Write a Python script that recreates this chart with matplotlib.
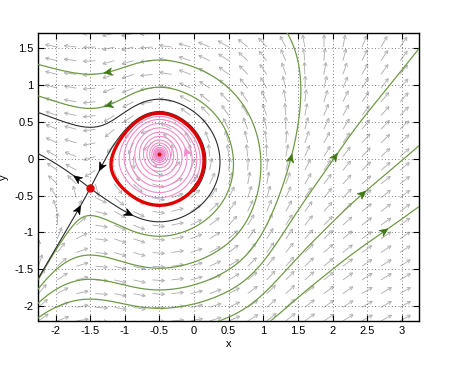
import numpy as np
import matplotlib
matplotlib.use("Agg")
import matplotlib.pyplot as plt
from matplotlib.collections import LineCollection
from matplotlib.patches import Polygon

plt.rcParams["font.family"] = ["Liberation Sans", "DejaVu Sans"]

# axes
x_range = (-2.25, 3.25)
y_range = (-2.2, 1.7)
x_ticks = [-2, -1.5, -1, -0.5, 0, 0.5, 1, 1.5, 2, 2.5, 3]
y_ticks = [-2, -1.5, -1, -0.5, 0, 0.5, 1, 1.5]

# x-positions of the two equilibria (saddle, focus)
saddle_x = -1.5
focus_x = -0.5

# x' = A(x) - y : curve where orbits turn upright
a_x = [-2.6, -2.25, -1.9, -1.5, -1.2, -1.05, -0.9, -0.7, -0.5, -0.3, 0.0, 0.2, 0.45,
       0.7, 0.9, 1.05, 1.2, 1.45, 1.68, 2.1, 2.5, 3.0, 3.6]
a_y = [-1.65, -1.22, -0.8, -0.4, -0.08, 0.0, 0.04, 0.065, 0.06, 0.035, -0.01, -0.03,
       -0.05, -0.09, -0.1, -0.03, 0.18, 0.7, 1.25, 1.95, 2.85, 3.9, 5.2]
# y' = K(x) (x - focus_x)(x - saddle_x) : K read from orbit slopes
k_x = [-2.6, -2.25, -1.9, -1.5, -1.0, -0.5, 0.0, 0.4, 0.9, 1.45, 2.1, 2.5, 3.0, 3.6]
k_v = [0.38, 0.49, 0.75, 1.25, 1.55, 1.1, 0.6, 0.45, 0.42, 0.37, 0.265, 0.22, 0.2, 0.19]


def smooth(xn, yn):
    xn = np.asarray(xn, float)
    yn = np.asarray(yn, float)
    m = np.gradient(yn, xn)

    def f(x):
        i = int(np.clip(np.searchsorted(xn, x) - 1, 0, len(xn) - 2))
        h = xn[i + 1] - xn[i]
        t = (x - xn[i]) / h
        return ((2 * t ** 3 - 3 * t ** 2 + 1) * yn[i] + (t ** 3 - 2 * t ** 2 + t) * h * m[i]
                + (-2 * t ** 3 + 3 * t ** 2) * yn[i + 1] + (t ** 3 - t ** 2) * h * m[i + 1])
    return f


A = smooth(a_x, a_y)
logK = smooth(k_x, np.log(k_v))


def field(p):
    x, y = p
    return np.array([A(x) - y, np.exp(logK(x)) * (x - focus_x) * (x - saddle_x)])


saddle = np.array([saddle_x, A(saddle_x)])
focus = np.array([focus_x, A(focus_x)])

# one point on each green orbit and where its arrow sits
green_seeds = [(-1.5, -0.77), (-1.5, -1.306), (-1.5, -1.634), (-1.5, -1.903),
               (2.48, -0.44), (2.8, -0.95)]
green_heads = [(-1.29, 0.71), (-1.3, 1.17), (1.45, 0.05), (2.1, 0.05),
               (2.48, -0.44), (2.8, -0.95)]
black_heads = [(-1.75, -0.25), (-0.9, -0.79), (-1.64, -0.64), (-1.36, -0.17)]
pink_head = (-0.1, 0.16)


def rk4(p, f, h):
    k1 = f(p)
    k2 = f(p + h / 2 * k1)
    k3 = f(p + h / 2 * k2)
    k4 = f(p + h * k3)
    return p + h / 6 * (k1 + 2 * k2 + 2 * k3 + k4)


def unit(p):
    v = field(p)
    return v / (np.hypot(*v) + 1e-12)


def arc(p0, sign, ds=0.006, nmax=4000, maxlen=None):
    p = np.array(p0, float)
    out = [p.copy()]
    length = 0.0
    for _ in range(nmax):
        p = rk4(p, lambda q: sign * unit(q), ds)
        out.append(p.copy())
        length += ds
        if not (x_range[0] - 0.1 < p[0] < x_range[1] + 0.1 and
                y_range[0] - 0.1 < p[1] < y_range[1] + 0.1):
            break
        if maxlen is not None and length > maxlen:
            break
    return np.array(out)


def orbit(p0):
    back = arc(p0, -1)[::-1]
    fwd = arc(p0, 1)
    return np.vstack([back, fwd[1:]])


def timed(p0, dt, n, stop=None):
    p = np.array(p0, float)
    out = [p.copy()]
    for _ in range(n):
        p = rk4(p, field, dt)
        if not np.all(np.isfinite(p)) or np.hypot(*p) > 20:
            break
        out.append(p.copy())
        if stop is not None and np.hypot(*(p - focus)) < stop:
            break
    return np.array(out)


def jac(p, e=1e-5):
    J = np.zeros((2, 2))
    for i in range(2):
        d = np.zeros(2)
        d[i] = e
        J[:, i] = (field(p + d) - field(p - d)) / (2 * e)
    return J


fig = plt.figure(figsize=(4.61, 3.70), dpi=100)
ax = fig.add_axes([0.083, 0.1324, 0.826, 0.7776])
ax.set_xlim(*x_range)
ax.set_ylim(*y_range)
bb = ax.get_window_extent()
sx = bb.width / (x_range[1] - x_range[0])
sy = bb.height / (y_range[1] - y_range[0])

# direction field
qx = np.linspace(x_range[0], x_range[1], 21)
qy = np.linspace(y_range[0], y_range[1], 22)
segs = []
L, hl, ha = 12.0, 3.8, np.radians(28)
for xv in qx:
    for yv in qy:
        u, v = field(np.array([xv, yv]))
        a = np.arctan2(v * sy, u * sx)
        tail = np.array([xv, yv])
        tip = tail + np.array([L * np.cos(a) / sx, L * np.sin(a) / sy])
        segs.append([tail, tip])
        for s in (1, -1):
            b = a + np.pi + s * ha
            segs.append([tip, tip + np.array([hl * np.cos(b) / sx, hl * np.sin(b) / sy])])
ax.add_collection(LineCollection(segs, colors="#b0b0b0", linewidths=0.65, zorder=1))


def head(path, target, color, size=9):
    d2 = (path[:, 0] - target[0]) ** 2 + (path[:, 1] - target[1]) ** 2
    i = int(np.clip(np.argmin(d2), 2, len(path) - 3))
    d = path[i + 2] - path[i - 2]
    a = np.arctan2(d[1] * sy, d[0] * sx)
    tip = path[i]
    pts = []
    for rr, t in [(0, 0), (size, 0.42), (0.65 * size, 0), (size, -0.42)]:
        pts.append([tip[0] - rr * np.cos(a + t) / sx, tip[1] - rr * np.sin(a + t) / sy])
    ax.add_patch(Polygon(pts, closed=True, facecolor=color, edgecolor=color,
                         lw=0.5, zorder=5))


for seed, tgt in zip(green_seeds, green_heads):
    pth = orbit(seed)
    ax.plot(pth[:, 0], pth[:, 1], color="#6f9a45", lw=0.9, zorder=3)
    head(pth, tgt, "#3f7a14")

# unstable cycle: run time backwards from near the focus
cyc = timed(focus + np.array([0.05, 0.0]), -0.01, 15000)
ang = np.unwrap(np.arctan2(cyc[:, 1] - focus[1], cyc[:, 0] - focus[0]))
ring = cyc[np.abs(ang - ang[-1]) < 2.05 * np.pi]
ax.plot(ring[:, 0], ring[:, 1], color="#e00000", lw=2.4, zorder=4)

# saddle separatrices
w, V = np.linalg.eig(jac(saddle))
iu = int(np.argmax(w.real))
vu, vs = V[:, iu].real, V[:, 1 - iu].real
eps = 1e-3
black = []
for s in (1, -1):
    black.append(arc(saddle + s * eps * vu, 1))
for s in (1, -1):
    p = saddle + s * eps * vs
    if s * vs[1] > 0:
        br = arc(p, -1, maxlen=3.0)
        gap = np.array([np.min(np.hypot(ring[:, 0] - q[0], ring[:, 1] - q[1])) for q in br])
        hit = np.nonzero(gap < 0.02)[0]
        if len(hit):
            br = br[:hit[0] + 1]
        black.append(br[::-1])
    else:
        black.append(arc(p, -1)[::-1])
for pth in black:
    ax.plot(pth[:, 0], pth[:, 1], color="#2b2b2b", lw=0.8, zorder=3)
for tgt in black_heads:
    best = min(black, key=lambda q: np.min((q[:, 0] - tgt[0]) ** 2 + (q[:, 1] - tgt[1]) ** 2))
    head(best, tgt, "black")

# spiral from inside the cycle down to the focus
start = focus + 0.92 * (ring[0] - focus)
sp = timed(start, 0.01, 20000, stop=0.004)
ax.plot(sp[:, 0], sp[:, 1], color="#f08ac8", lw=0.8, zorder=2)
head(sp, pink_head, "#f08ac8")

ax.plot(*saddle, "o", color="#e00000", ms=5, zorder=6)
ax.plot(*focus, "o", color="#e00000", ms=1.8, zorder=6)

ax.set_xticks(x_ticks)
ax.set_yticks(y_ticks)
ax.set_xticklabels([f"{t:g}" for t in x_ticks])
ax.set_yticklabels([f"{t:g}" for t in y_ticks])
ax.grid(True, color="#555555", linestyle=(0, (1, 3)), lw=0.6)
ax.tick_params(direction="in", top=True, right=True, length=4, labelsize=8, width=0.8)
for s_ in ax.spines.values():
    s_.set_linewidth(1.0)
ax.set_xlabel("x", fontsize=8, labelpad=2)
ax.set_ylabel("y", fontsize=8, labelpad=4)

fig.savefig("out.png", dpi=100)
